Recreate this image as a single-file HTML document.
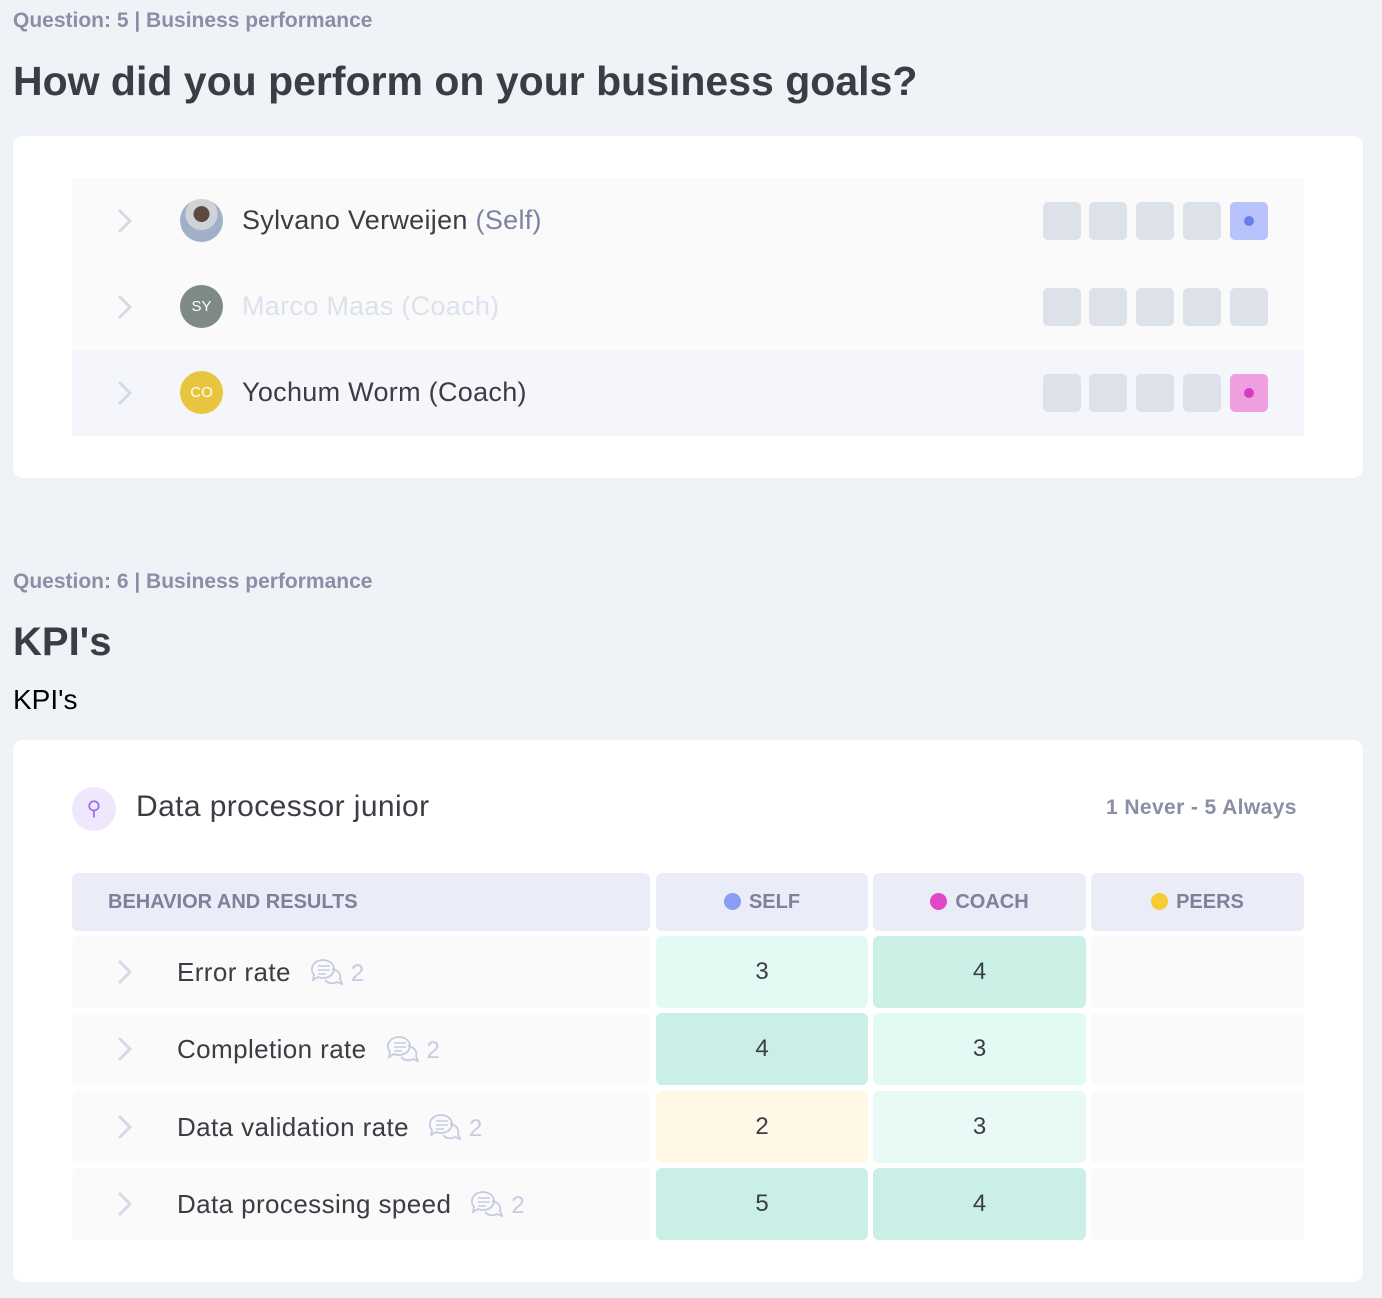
<!DOCTYPE html><html><head><style>
body{margin:0;background:#eff3f7;font-family:"Liberation Sans",sans-serif;width:1382px;height:1298px;position:relative;overflow:hidden;color:#3c3d44}
.a{position:absolute}
.q{font-size:21px;font-weight:bold;color:#8a8fa6;left:13px}
.card{background:#fff;border-radius:10px;left:13px;width:1350px}
.row{left:72px;width:1232px;height:86px}
.chev{left:46px;top:31px}
.av{left:108px;top:21px;width:43px;height:43px;border-radius:50%;color:#fff;font-size:15px;text-align:center;line-height:43px}
.nm{left:170px;top:27px;font-size:27px;letter-spacing:.3px}
.sq{width:38px;height:38px;border-radius:5px;background:#dde1ea;top:24px}
.dot{position:absolute;left:14px;top:14px;width:10px;height:10px;border-radius:50%}
.th{top:873px;height:58px;background:#eaecf8;border-radius:6px;font-weight:bold;font-size:20px;color:#7d8199;line-height:58px}
.c{border-radius:6px;height:72px;text-align:center;line-height:72px;font-size:24px;color:#3c3d44}
.lab{left:72px;width:578px;background:#fafafa;text-align:left}
.ci{position:absolute;left:46px;top:24px}
.hd{display:inline-block;width:17px;height:17px;border-radius:50%;vertical-align:-2px;margin-right:8px}
.t{font-size:26px;margin-left:105px;letter-spacing:.4px}
.cm{display:inline-block;vertical-align:-6px;margin-left:18px}
.n{color:#c7cbe0;font-size:24px;margin-left:8px}
</style></head><body>
<svg width="0" height="0" style="position:absolute"><defs>
<symbol id="ch" viewBox="0 0 14 24"><polyline points="2,2 12,12 2,22" fill="none" stroke="#d3d9e6" stroke-width="3" stroke-linecap="round" stroke-linejoin="round"/></symbol>
<symbol id="cm" viewBox="0 0 34 30"><path d="M3 12a11 9 0 1 1 6 8l-5 3 1-5a11 9 0 0 1-2-6z" fill="none" stroke="#c7cbe0" stroke-width="1.8"/><path d="M9 9h12M9 13h12M9 17h8" stroke="#c7cbe0" stroke-width="1.6"/><path d="M23 12a9 8 0 0 1 8 10l2 5-5-2a9 8 0 0 1-12-2" fill="none" stroke="#c7cbe0" stroke-width="1.8"/></symbol>
</defs></svg>
<div class="a q" style="top:9px">Question: 5 | Business performance</div>
<div class="a" style="left:13px;top:58px;font-size:41px;font-weight:bold;color:#3c3d44">How did you perform on your business goals?</div>
<div class="a card" style="top:136px;height:342px"></div>
<div class="a row" style="top:178px;background:#fafafa">
<svg class="a chev" width="14" height="24"><use href="#ch"/></svg><div class="a av" style="background:radial-gradient(circle at 50% 35%,#5a4a40 0 22%,#cfd2d6 23% 45%,#9fb0c8 46%)"></div>
<div class="a nm">Sylvano Verweijen <span style="color:#7d83a3">(Self)</span></div>
<div class="a sq" style="left:971px"></div><div class="a sq" style="left:1017px"></div><div class="a sq" style="left:1064px"></div><div class="a sq" style="left:1111px"></div><div class="a sq" style="left:1158px;background:#b9c3fb"><div class="dot" style="background:#6a7ef0"></div></div></div>
<div class="a row" style="top:264px;background:#fafafa">
<svg class="a chev" width="14" height="24"><use href="#ch"/></svg><div class="a av" style="background:#7e8a86">SY</div>
<div class="a nm" style="color:#dbe1ee">Marco Maas (Coach)</div>
<div class="a sq" style="left:971px"></div><div class="a sq" style="left:1017px"></div><div class="a sq" style="left:1064px"></div><div class="a sq" style="left:1111px"></div><div class="a sq" style="left:1158px"></div></div>
<div class="a row" style="top:350px;background:#f5f6fb">
<svg class="a chev" width="14" height="24"><use href="#ch"/></svg><div class="a av" style="background:#e9c53f">CO</div>
<div class="a nm">Yochum Worm (Coach)</div>
<div class="a sq" style="left:971px"></div><div class="a sq" style="left:1017px"></div><div class="a sq" style="left:1064px"></div><div class="a sq" style="left:1111px"></div><div class="a sq" style="left:1158px;background:#ee9fe0"><div class="dot" style="background:#d93bc4"></div></div></div>

<div class="a q" style="top:570px">Question: 6 | Business performance</div>
<div class="a" style="left:13px;top:620px;font-size:40px;font-weight:bold;color:#3c3d44">KPI's</div>
<div class="a" style="left:13px;top:684px;font-size:28px;color:#000">KPI's</div>
<div class="a card" style="top:740px;height:542px"></div>
<div class="a" style="left:72px;top:787px;width:44px;height:44px;border-radius:50%;background:#efe7fb;color:#9b6fe6;text-align:center;line-height:44px;font-size:20px">⚲</div>
<div class="a" style="left:136px;top:790px;font-size:30px;letter-spacing:.4px">Data processor junior</div>
<div class="a" style="left:1106px;top:796px;font-size:21px;font-weight:bold;color:#8a8fa6;letter-spacing:.4px">1 Never - 5 Always</div>
<div class="a th" style="left:72px;width:542px;padding-left:36px">BEHAVIOR AND RESULTS</div>
<div class="a th" style="left:656px;width:212px;text-align:center"><span class="hd" style="background:#8b9cf3"></span>SELF</div>
<div class="a th" style="left:873px;width:213px;text-align:center"><span class="hd" style="background:#e048c9"></span>COACH</div>
<div class="a th" style="left:1091px;width:213px;text-align:center"><span class="hd" style="background:#f5cc34"></span>PEERS</div>

<div class="a c lab" style="top:936px"><svg class="ci" width="14" height="24"><use href="#ch"/></svg><span class="t">Error rate</span><svg class="cm" width="34" height="30"><use href="#cm"/></svg><span class="n">2</span></div>
<div class="a c" style="top:936px;left:656px;width:212px;background:#e3faf4">3</div>
<div class="a c" style="top:936px;left:873px;width:213px;background:#cbf1e7">4</div>
<div class="a c" style="top:936px;left:1091px;width:213px;background:#fafafa"></div>

<div class="a c lab" style="top:1013px"><svg class="ci" width="14" height="24"><use href="#ch"/></svg><span class="t">Completion rate</span><svg class="cm" width="34" height="30"><use href="#cm"/></svg><span class="n">2</span></div>
<div class="a c" style="top:1013px;left:656px;width:212px;background:#c9efe6">4</div>
<div class="a c" style="top:1013px;left:873px;width:213px;background:#e3faf4">3</div>
<div class="a c" style="top:1013px;left:1091px;width:213px;background:#fafafa"></div>

<div class="a c lab" style="top:1091px"><svg class="ci" width="14" height="24"><use href="#ch"/></svg><span class="t">Data validation rate</span><svg class="cm" width="34" height="30"><use href="#cm"/></svg><span class="n">2</span></div>
<div class="a c" style="top:1091px;left:656px;width:212px;background:#fff8e6">2</div>
<div class="a c" style="top:1091px;left:873px;width:213px;background:#e9f9f5">3</div>
<div class="a c" style="top:1091px;left:1091px;width:213px;background:#fafafa"></div>

<div class="a c lab" style="top:1168px"><svg class="ci" width="14" height="24"><use href="#ch"/></svg><span class="t">Data processing speed</span><svg class="cm" width="34" height="30"><use href="#cm"/></svg><span class="n">2</span></div>
<div class="a c" style="top:1168px;left:656px;width:212px;background:#c9efe6">5</div>
<div class="a c" style="top:1168px;left:873px;width:213px;background:#c9efe6">4</div>
<div class="a c" style="top:1168px;left:1091px;width:213px;background:#fafafa"></div>
</body></html>
